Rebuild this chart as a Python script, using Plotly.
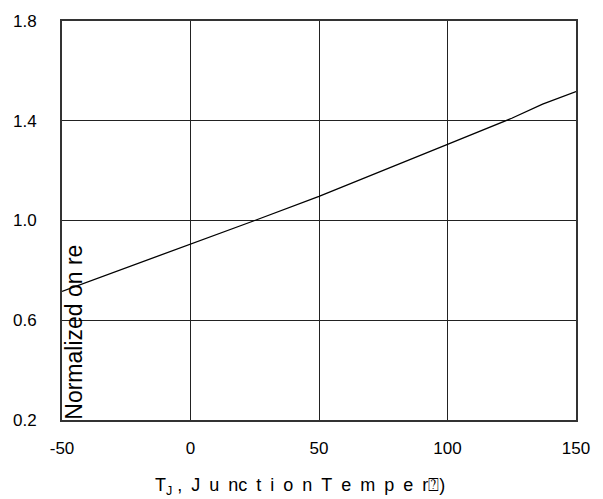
import plotly.graph_objects as go

temps = [-50, -25, 0, 25, 50, 75, 100, 125, 137, 150]
norm_on_res = [0.716, 0.81, 0.903, 1.0, 1.097, 1.20, 1.305, 1.41, 1.467, 1.517]

x_ticks = [-50, 0, 50, 100, 150]
x_tick_text = ["-50", "0", "50", "100", "150"]
y_ticks = [0.2, 0.6, 1.0, 1.4, 1.8]
y_tick_text = ["0.2", "0.6", "1.0", "1.4", "1.8"]

FONT = "Liberation Sans, Arial, sans-serif"
SP = "\u2002"
x_title = ("T<sub>J</sub> ," + SP + SP.join(["J", "u", "nc", "t", "i", "o", "n", "T", "e", "m", "p", "e", "r⍰)"]))

fig = go.Figure()
fig.add_trace(go.Scatter(x=temps, y=norm_on_res, mode="lines",
                         line=dict(color="black", width=1.3), showlegend=False,
                         hoverinfo="skip"))

fig.update_layout(
    width=603, height=499,
    margin=dict(l=62, r=27, t=17, b=79),
    paper_bgcolor="white", plot_bgcolor="white",
    font=dict(family=FONT, size=17, color="black"),
    xaxis=dict(range=[-50, 150], tickvals=x_ticks, ticktext=x_tick_text,
               showgrid=True, gridcolor="#222", gridwidth=1, showline=True,
               linecolor="#333", linewidth=2, mirror=True, ticks="",
               zeroline=False, ticklabelstandoff=12),
    yaxis=dict(range=[0.2, 1.8], tickvals=y_ticks, ticktext=y_tick_text,
               showgrid=True, gridcolor="#222", gridwidth=1, showline=True,
               linecolor="#333", linewidth=2, mirror=True, ticks="",
               zeroline=False, ticklabelstandoff=20),
    annotations=[
        dict(text="Normalized on re", textangle=-90, x=0, xref="paper",
             y=0.55, yref="y", xanchor="left", yanchor="middle",
             showarrow=False, font=dict(size=23, family=FONT), borderpad=0,
             xshift=-2),
        dict(text=x_title, x=0.463, xref="paper", y=-0.166, yref="paper",
             xanchor="center", yanchor="middle", showarrow=False,
             font=dict(size=18, family=FONT)),
    ],
)

fig.write_html("out.html")
